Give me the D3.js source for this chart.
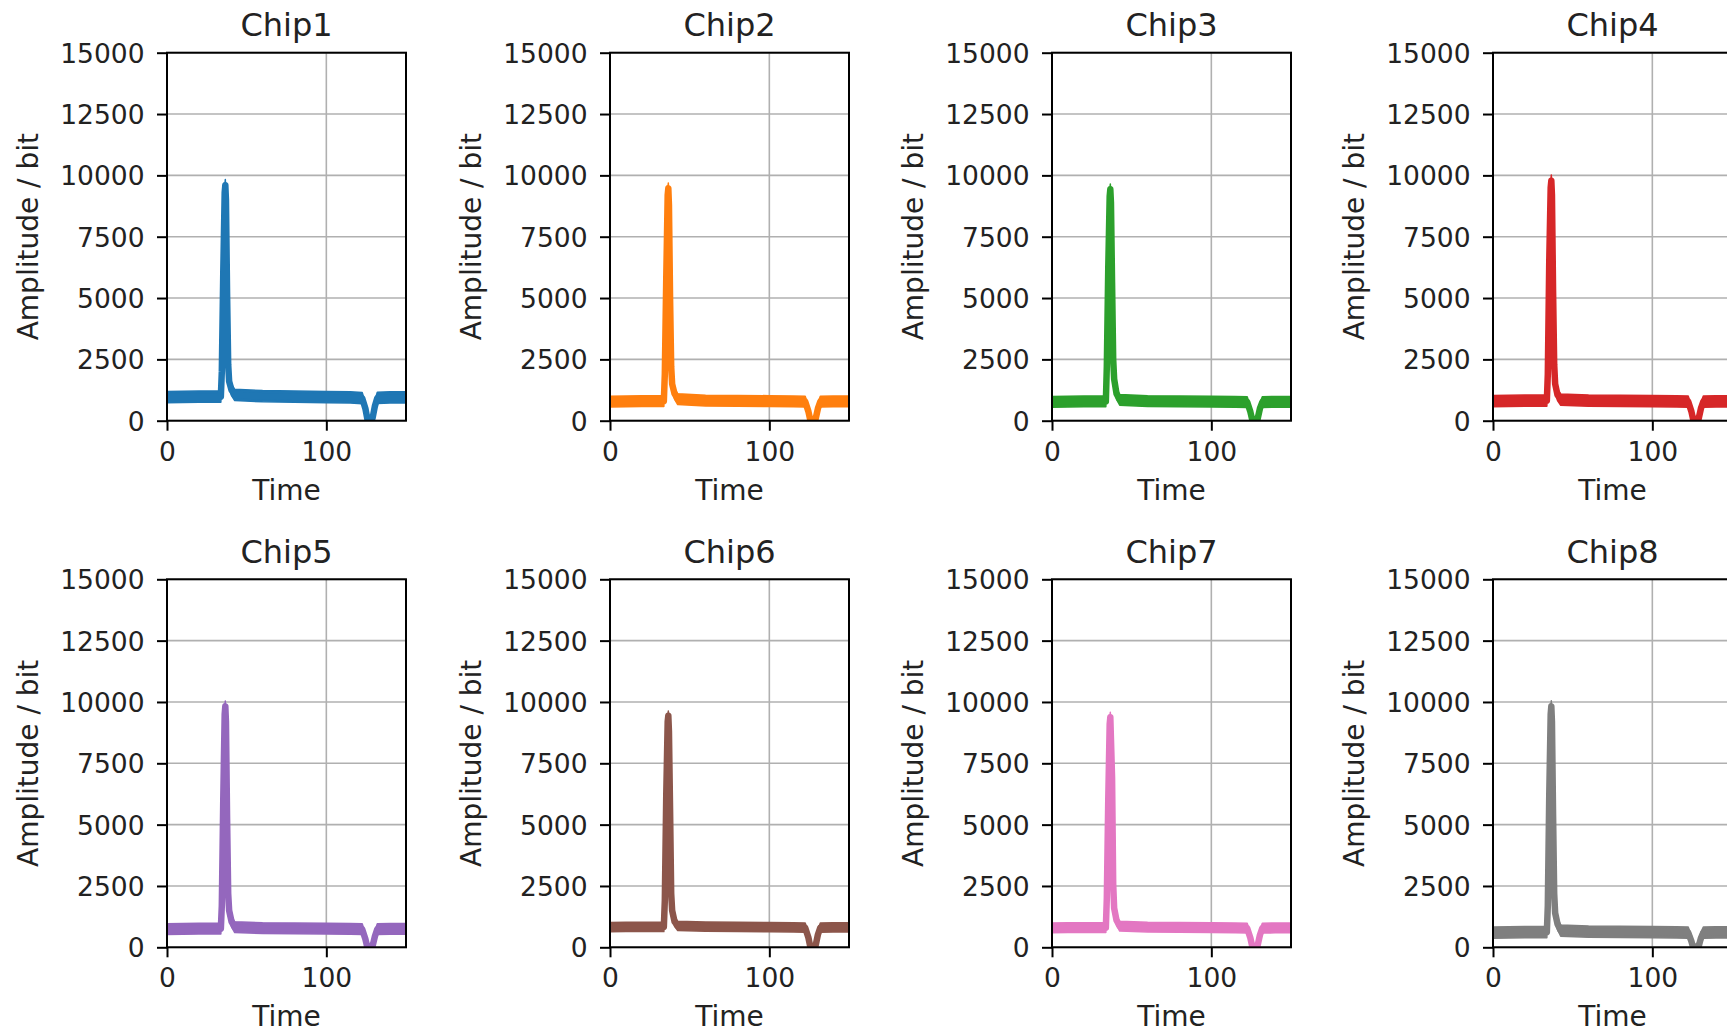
<!DOCTYPE html>
<html><head><meta charset="utf-8">
<script src="https://cdn.jsdelivr.net/npm/d3@7"></script>
<style>
body{margin:0;background:#fff;overflow:hidden}
text{font-family:"DejaVu Sans",sans-serif;fill:#222}
</style>
</head><body>
<svg id="c" width="1727" height="1032"></svg>
<script>
// ---------- data ----------
const chips = ["Chip1","Chip2","Chip3","Chip4","Chip5","Chip6","Chip7","Chip8"];
const colors = ["#1f77b4","#ff7f0e","#2ca02c","#d62728","#9467bd","#8c564b","#e377c2","#7f7f7f"];
const times = [0, 10, 20, 33.8, 34.4, 35.3, 36.2, 36.6, 37.0, 37.7, 38.4, 39.0, 40.5, 42.5, 60, 80, 100, 115, 122.5, 124.5, 125.8, 127.5, 129, 130.5, 132, 140, 150];
const chip1 = [960, 970, 980, 980, 2000, 6000, 9300, 9600, 9000, 5200, 2300, 1600, 1250, 1050, 1000, 980, 960, 950, 920, 500, 50, -50, 100, 600, 930, 950, 950];
const chip2 = [780, 790, 800, 800, 1900, 5800, 9200, 9470, 8800, 5000, 2200, 1500, 1100, 880, 820, 810, 800, 790, 780, 380, 0, -80, 60, 500, 780, 790, 790];
const chip3 = [770, 780, 790, 790, 2200, 6200, 9150, 9430, 8900, 5600, 2500, 1700, 1100, 850, 800, 790, 780, 770, 760, 360, 0, -80, 60, 500, 760, 770, 770];
const chip4 = [800, 810, 820, 820, 1900, 6500, 9500, 9780, 9200, 5300, 2300, 1500, 1050, 860, 820, 810, 800, 790, 780, 380, 0, -80, 60, 500, 780, 790, 790];
const chip5 = [740, 750, 760, 760, 1700, 6000, 9500, 9820, 9200, 5300, 2200, 1500, 1050, 820, 780, 770, 760, 750, 740, 340, -20, -100, 40, 450, 740, 750, 750];
const chip6 = [820, 830, 830, 830, 1900, 6200, 9200, 9440, 8800, 5600, 2200, 1500, 1050, 870, 840, 830, 820, 810, 800, 400, 0, -80, 60, 520, 800, 810, 810];
const chip7 = [790, 800, 800, 800, 2000, 6000, 9100, 9380, 8500, 6900, 2600, 1600, 1100, 860, 820, 810, 800, 790, 780, 380, 0, -80, 60, 500, 780, 790, 790];
const chip8 = [600, 610, 620, 620, 1700, 6200, 9500, 9820, 9200, 5400, 2200, 1400, 950, 680, 640, 630, 620, 610, 600, 250, -50, -120, 20, 380, 600, 610, 610];
const series = [chip1, chip2, chip3, chip4, chip5, chip6, chip7, chip8];
const bandHalf = [230, 220, 220, 230, 220, 190, 200, 230];
const yTicks = [0, 2500, 5000, 7500, 10000, 12500, 15000];
const xTicks = [0, 100];
const xLabel = "Time";
const yLabel = "Amplitude / bit";

// ---------- layout ----------
const W = 239, H = 368;
const lefts = [167, 610, 1052, 1493];
const tops = [52.7, 579.3];

const svg = d3.select("#c");
const x = d3.scaleLinear().domain([0, 150]).range([0, W]);
const y = d3.scaleLinear().domain([0, 15000]).range([H, 0]);

chips.forEach((name, i) => {
  const col = i % 4, row = Math.floor(i / 4);
  const g = svg.append("g").attr("transform", `translate(${lefts[col]},${tops[row]})`);
  const data = times.map((t, k) => ({t, v: series[i][k]}));

  g.append("clipPath").attr("id", "clip" + i)
    .append("rect").attr("x", 0).attr("y", 0).attr("width", W).attr("height", H);

  // grid
  g.selectAll(".gy").data(yTicks).join("line")
    .attr("x1", 0).attr("x2", W).attr("y1", d => y(d)).attr("y2", d => y(d))
    .attr("stroke", "#b0b0b0").attr("stroke-width", 1.6);
  g.selectAll(".gx").data(xTicks).join("line")
    .attr("y1", 0).attr("y2", H).attr("x1", d => x(d)).attr("x2", d => x(d))
    .attr("stroke", "#b0b0b0").attr("stroke-width", 1.6);

  const plot = g.append("g").attr("clip-path", `url(#clip${i})`);
  const area = d3.area().x(d => x(d.t))
    .y0(d => y(d.v - bandHalf[i])).y1(d => y(d.v + bandHalf[i]));
  plot.append("path").datum(data).attr("d", area)
    .attr("fill", colors[i]).attr("stroke", colors[i]).attr("stroke-width", 1.5)
    .attr("stroke-linejoin", "round");
  const line = d3.line().x(d => x(d.t)).y(d => y(d.v));
  plot.append("path").datum(data).attr("d", line)
    .attr("fill", "none").attr("stroke", colors[i]).attr("stroke-width", 6.5)
    .attr("stroke-linejoin", "round").attr("stroke-linecap", "round");

  // spines
  g.append("rect").attr("x", 0).attr("y", 0).attr("width", W).attr("height", H)
    .attr("fill", "none").attr("stroke", "#000").attr("stroke-width", 2);

  // y axis
  const ya = g.append("g").call(d3.axisLeft(y).tickValues(yTicks).tickSize(10).tickFormat(d3.format("d")));
  ya.select(".domain").remove();
  ya.selectAll(".tick line").attr("stroke", "#000").attr("stroke-width", 2);
  ya.selectAll(".tick text").attr("x", -22.5).attr("dy", "0.36em")
    .style("font-size", "26.5px").style("font-family", "DejaVu Sans").attr("fill", "#222");

  // x axis
  const xa = g.append("g").attr("transform", `translate(0,${H})`)
    .call(d3.axisBottom(x).tickValues(xTicks).tickSize(10).tickFormat(d3.format("d")));
  xa.select(".domain").remove();
  xa.selectAll(".tick line").attr("stroke", "#000").attr("stroke-width", 2);
  xa.selectAll(".tick text").attr("y", 40).attr("dy", null)
    .style("font-size", "26.5px").style("font-family", "DejaVu Sans").attr("fill", "#222");

  // title & labels
  g.append("text").attr("x", W / 2).attr("y", -16.7).attr("text-anchor", "middle")
    .style("font-size", "32px").text(name);
  g.append("text").attr("x", W / 2).attr("y", H + 79).attr("text-anchor", "middle")
    .style("font-size", "28px").text(xLabel);
  g.append("text").attr("transform", `translate(-129,${H / 2}) rotate(-90)`)
    .attr("text-anchor", "middle").style("font-size", "28px").text(yLabel);
});
</script>
</body></html>
